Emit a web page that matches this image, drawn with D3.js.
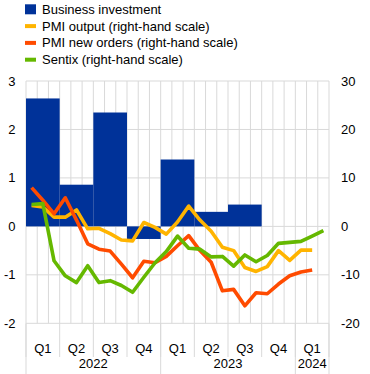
<!DOCTYPE html>
<html><head><meta charset="utf-8">
<script src="https://cdn.jsdelivr.net/npm/d3@7"></script>
<style>
html,body{margin:0;padding:0;background:#fff;}
svg{display:block;font-family:"Liberation Sans",Arial,sans-serif;}
</style></head>
<body>
<svg id="chart" width="370" height="374"></svg>
<script>
const months = ["2022-01","2022-02","2022-03","2022-04","2022-05","2022-06","2022-07","2022-08","2022-09","2022-10","2022-11","2022-12",
"2023-01","2023-02","2023-03","2023-04","2023-05","2023-06","2023-07","2023-08","2023-09","2023-10","2023-11","2023-12",
"2024-01","2024-02","2024-03"];
const quarters = ["2022Q1","2022Q2","2022Q3","2022Q4","2023Q1","2023Q2","2023Q3","2023Q4","2024Q1"];
const quarterLabels = ["Q1","Q2","Q3","Q4","Q1","Q2","Q3","Q4","Q1"];
const years = ["2022","2023","2024"];
const yearQuarters = [4,4,1];
const businessInvestment = [2.64, 0.86, 2.35, -0.26, 1.38, 0.30, 0.45, null, null];
const pmiOutput = [4.3, 4.0, 1.9, 1.9, 3.4, -0.5, -0.4, -1.5, -2.8, -3.0, 0.8, -0.2, -1.6, 0.9, 4.2, 1.3, -1.0, -4.3, -5.0, -8.5, -9.3, -8.3, -5.0, -7.0, -4.9, -4.9];
const pmiNewOrders = [8.0, 5.4, 2.6, 5.9, 1.3, -3.6, -4.7, -5.1, -7.8, -10.6, -7.2, -7.5, -6.2, -4.0, -1.9, -5.0, -7.4, -13.3, -13.0, -16.4, -13.7, -13.9, -11.9, -10.2, -9.4, -9.0];
const sentix = [4.5, 4.7, -7.1, -10.2, -11.6, -8.1, -11.6, -11.2, -12.2, -13.6, -10.5, -7.5, -5.2, -2.0, -4.5, -4.7, -6.3, -6.2, -8.2, -5.9, -7.3, -6.0, -3.5, -3.3, -3.1, -2.0, -0.9];
const leftTicks = [-2,-1,0,1,2,3];
const rightTicks = [-20,-10,0,10,20,30];
const legendItems = [
  {label:"Business investment", color:"#003299", type:"bar"},
  {label:"PMI output (right-hand scale)", color:"#FFB400", type:"line"},
  {label:"PMI new orders (right-hand scale)", color:"#FF4B00", type:"line"},
  {label:"Sentix (right-hand scale)", color:"#65B800", type:"line"}
];

const L = 26, R = 329, T = 81, B = 323.3;
const svg = d3.select("#chart");
const grid = "#d9d9d9";

const xm = d3.scaleBand().domain(months).range([L, R]).padding(0);
const xq = d3.scaleBand().domain(quarters).range([L, R]).padding(0);
const yL = d3.scaleLinear().domain([-2, 3]).range([B, T]);
const yR = d3.scaleLinear().domain([-20, 30]).range([B, T]);

// horizontal grid
svg.append("g").selectAll("line").data(leftTicks).join("line")
  .attr("x1", L).attr("x2", R).attr("y1", d => yL(d)).attr("y2", d => yL(d))
  .attr("stroke", grid).attr("stroke-width", 1);

// vertical monthly grid
const mb = months.map(m => xm(m)).concat([R]);
svg.append("g").selectAll("line").data(mb).join("line")
  .attr("x1", d => d).attr("x2", d => d).attr("y1", T).attr("y2", B)
  .attr("stroke", grid).attr("stroke-width", 1);

// quarter separators in axis area
const qb = quarters.map(q => xq(q)).concat([R]);
svg.append("g").selectAll("line").data(qb).join("line")
  .attr("x1", d => d).attr("x2", d => d).attr("y1", B).attr("y2", 357)
  .attr("stroke", grid).attr("stroke-width", 1);

// year separators
let acc = 0; const yb = [xq(quarters[0])];
const yearCenters = [];
yearQuarters.forEach((n, i) => {
  const s = xq(quarters[acc]); acc += n;
  const e = acc < quarters.length ? xq(quarters[acc]) : R;
  yb.push(e); yearCenters.push((s + e) / 2);
});
svg.append("g").selectAll("line").data(yb).join("line")
  .attr("x1", d => d).attr("x2", d => d).attr("y1", B).attr("y2", 374)
  .attr("stroke", grid).attr("stroke-width", 1);

// bars
svg.append("g").selectAll("rect").data(quarters.map((q, i) => ({q, v: businessInvestment[i]})).filter(d => d.v != null)).join("rect")
  .attr("x", d => xq(d.q)).attr("width", xq.bandwidth())
  .attr("y", d => Math.min(yL(d.v), yL(0))).attr("height", d => Math.abs(yL(d.v) - yL(0)))
  .attr("fill", "#003299");

// lines
const line = d3.line().x((d, i) => xm(months[i]) + xm.bandwidth() / 2).y(d => yR(d));
[[pmiOutput, "#FFB400"], [pmiNewOrders, "#FF4B00"], [sentix, "#65B800"]].forEach(([data, c]) => {
  svg.append("path").datum(data).attr("d", line).attr("fill", "none")
    .attr("stroke", c).attr("stroke-width", 3.6).attr("stroke-linejoin", "round");
});

// left axis labels
svg.append("g").selectAll("text").data(leftTicks).join("text")
  .attr("x", 15.5).attr("y", d => yL(d)).attr("dy", "0.35em").attr("text-anchor", "end")
  .attr("font-size", 13).attr("fill", "#000").text(d => d);
// right axis labels
svg.append("g").selectAll("text").data(rightTicks).join("text")
  .attr("x", 341).attr("y", d => yR(d)).attr("dy", "0.35em").attr("text-anchor", "start")
  .attr("font-size", 13).attr("fill", "#000").text(d => d);

// quarter labels
svg.append("g").selectAll("text").data(quarters).join("text")
  .attr("x", d => xq(d) + xq.bandwidth() / 2).attr("y", 353).attr("text-anchor", "middle")
  .attr("font-size", 13).attr("fill", "#000").text((d, i) => quarterLabels[i]);
// year labels
svg.append("g").selectAll("text").data(years).join("text")
  .attr("x", (d, i) => yearCenters[i]).attr("y", 368).attr("text-anchor", "middle")
  .attr("font-size", 13).attr("fill", "#000").text(d => d);

// legend
const lg = svg.append("g");
legendItems.forEach((it, i) => {
  const cy = 9.3 + i * 16.8;
  if (it.type === "bar") {
    lg.append("rect").attr("x", 25).attr("y", cy - 5).attr("width", 11).attr("height", 10).attr("fill", it.color);
  } else {
    lg.append("rect").attr("x", 25).attr("y", cy - 2).attr("width", 11).attr("height", 4).attr("fill", it.color);
  }
  lg.append("text").attr("x", 42).attr("y", cy).attr("dy", "0.35em").attr("font-size", 13).attr("fill", "#000").text(it.label);
});
</script>
</body></html>
